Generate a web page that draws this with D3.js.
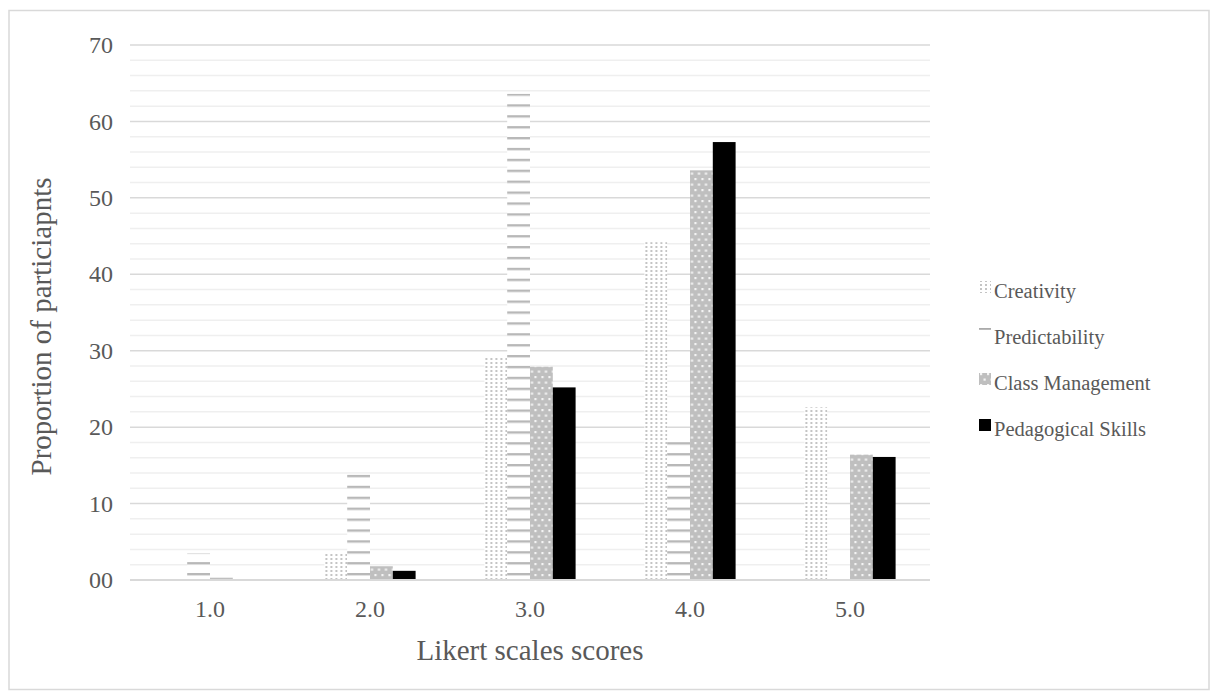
<!DOCTYPE html>
<html>
<head>
<meta charset="utf-8">
<script src="https://cdn.jsdelivr.net/npm/d3@7"></script>
<style>
  body { margin: 0; background: #fff; }
  svg text { font-family: "Liberation Serif", "Times New Roman", serif; fill: #595959; }
</style>
</head>
<body>
<div id="chart"></div>
<script>
// Data
const categories = ['1.0', '2.0', '3.0', '4.0', '5.0'];
const seriesNames = ['Creativity', 'Predictability', 'Class Management', 'Pedagogical Skills'];
const creativity = [0, 3.6, 29.1, 44.2, 22.6];
const predictability = [3.5, 13.9, 63.6, 18.3, 0];
const classManagement = [0.3, 1.8, 27.9, 53.6, 16.4];
const pedagogicalSkills = [0, 1.2, 25.2, 57.3, 16.1];
const yTicks = [0, 10, 20, 30, 40, 50, 60, 70];
const yTickLabels = ['00', '10', '20', '30', '40', '50', '60', '70'];

const seriesValues = [creativity, predictability, classManagement, pedagogicalSkills];
const fills = ['url(#pat-creativity)', 'url(#pat-predict)', 'url(#pat-class)', '#000'];

const width = 1213, height = 695;
const margin = { top: 45, right: 283, bottom: 115, left: 130 };
const innerW = width - margin.left - margin.right;
const innerH = height - margin.top - margin.bottom;

const svg = d3.select('#chart').append('svg')
    .attr('width', width)
    .attr('height', height);

// outer frame
svg.append('rect')
    .attr('x', 9).attr('y', 10.5)
    .attr('width', 1200).attr('height', 679)
    .attr('fill', 'none')
    .attr('stroke', '#d9d9d9')
    .attr('stroke-width', 1.5);

// patterns
const defs = svg.append('defs');

const pc = defs.append('pattern')
    .attr('id', 'pat-creativity')
    .attr('patternUnits', 'userSpaceOnUse')
    .attr('width', 5).attr('height', 4);
pc.append('rect').attr('width', 5).attr('height', 4).attr('fill', '#fff');
pc.append('rect').attr('x', 1).attr('y', 1).attr('width', 2).attr('height', 2).attr('fill', '#c4c4c4');

const pp = defs.append('pattern')
    .attr('id', 'pat-predict')
    .attr('patternUnits', 'userSpaceOnUse')
    .attr('y', innerH - 7)
    .attr('width', 8).attr('height', 10.9);
pp.append('rect').attr('width', 8).attr('height', 10.9).attr('fill', '#fff');
pp.append('rect').attr('x', 0).attr('y', 0).attr('width', 8).attr('height', 2.4).attr('fill', '#b8b8b8');

const pm = defs.append('pattern')
    .attr('id', 'pat-class')
    .attr('patternUnits', 'userSpaceOnUse')
    .attr('width', 7).attr('height', 11);
pm.append('rect').attr('width', 7).attr('height', 11).attr('fill', '#bfbfbf');
pm.append('rect').attr('x', 1).attr('y', 1).attr('width', 2.2).attr('height', 2.2).attr('fill', '#f4f4f4');
pm.append('rect').attr('x', 4.5).attr('y', 6.5).attr('width', 2.2).attr('height', 2.2).attr('fill', '#f4f4f4');

const g = svg.append('g')
    .attr('transform', `translate(${margin.left},${margin.top})`);

const x0 = d3.scaleBand()
    .domain(categories)
    .range([0, innerW])
    .paddingInner(0.43)
    .paddingOuter(0.215);

const x1 = d3.scaleBand()
    .domain(seriesNames)
    .range([0, x0.bandwidth()]);

const y = d3.scaleLinear()
    .domain([0, 70])
    .range([innerH, 0]);

// minor gridlines
g.append('g')
    .selectAll('line')
    .data(d3.range(2, 70, 2).filter(v => v % 10 !== 0))
    .enter().append('line')
    .attr('x1', 0).attr('x2', innerW)
    .attr('y1', d => y(d)).attr('y2', d => y(d))
    .attr('stroke', '#efefef')
    .attr('stroke-width', 1.5);

// major gridlines
g.append('g')
    .selectAll('line')
    .data(yTicks.slice(1))
    .enter().append('line')
    .attr('x1', 0).attr('x2', innerW)
    .attr('y1', d => y(d)).attr('y2', d => y(d))
    .attr('stroke', '#d9d9d9')
    .attr('stroke-width', 1.5);

// bars
const groups = g.append('g')
    .selectAll('g')
    .data(categories)
    .enter().append('g')
    .attr('transform', d => `translate(${x0(d)},0)`);

groups.selectAll('rect')
    .data((d, i) => seriesNames.map((s, j) => ({ s, j, v: seriesValues[j][i] })))
    .enter().append('rect')
    .filter(d => d.v > 0)
    .attr('x', d => x1(d.s))
    .attr('y', d => y(d.v))
    .attr('width', x1.bandwidth())
    .attr('height', d => innerH - y(d.v))
    .attr('fill', d => fills[d.j]);

// x axis line
g.append('line')
    .attr('x1', 0).attr('x2', innerW)
    .attr('y1', innerH).attr('y2', innerH)
    .attr('stroke', '#d9d9d9')
    .attr('stroke-width', 2);

// y tick labels
const yAxis = d3.axisLeft(y)
    .tickValues(yTicks)
    .tickFormat((d, i) => yTickLabels[i])
    .tickSize(0)
    .tickPadding(17);
g.append('g').call(yAxis)
    .call(a => a.select('.domain').remove())
    .selectAll('text')
    .style('font-size', '24px')
    .attr('fill', '#595959');

// x tick labels
const xAxis = d3.axisBottom(x0).tickSize(0).tickPadding(20);
g.append('g')
    .attr('transform', `translate(0,${innerH})`)
    .call(xAxis)
    .call(a => a.select('.domain').remove())
    .selectAll('text')
    .style('font-size', '24px')
    .attr('fill', '#595959');

// axis titles
svg.append('text')
    .attr('x', margin.left + innerW / 2)
    .attr('y', 660)
    .attr('text-anchor', 'middle')
    .style('font-size', '29px')
    .text('Likert scales scores');

svg.append('text')
    .attr('transform', `translate(51,${margin.top + innerH / 2 + 14}) rotate(-90)`)
    .attr('text-anchor', 'middle')
    .style('font-size', '29px')
    .text('Proportion of particiapnts');

// legend
const legend = svg.append('g')
    .attr('transform', 'translate(979,291)');

seriesNames.forEach((name, i) => {
    const row = legend.append('g').attr('transform', `translate(0,${i * 46})`);
    if (i === 1) {
        row.append('rect')
            .attr('x', 0).attr('y', -9)
            .attr('width', 12).attr('height', 1.8)
            .attr('fill', '#aaa');
    } else {
        row.append('rect')
            .attr('x', 0).attr('y', -10)
            .attr('width', 12).attr('height', 12)
            .attr('fill', fills[i]);
    }
    row.append('text')
        .attr('x', 15)
        .attr('y', 0)
        .attr('dy', '0.32em')
        .style('font-size', '20.5px')
        .text(name);
});
</script>
</body>
</html>
